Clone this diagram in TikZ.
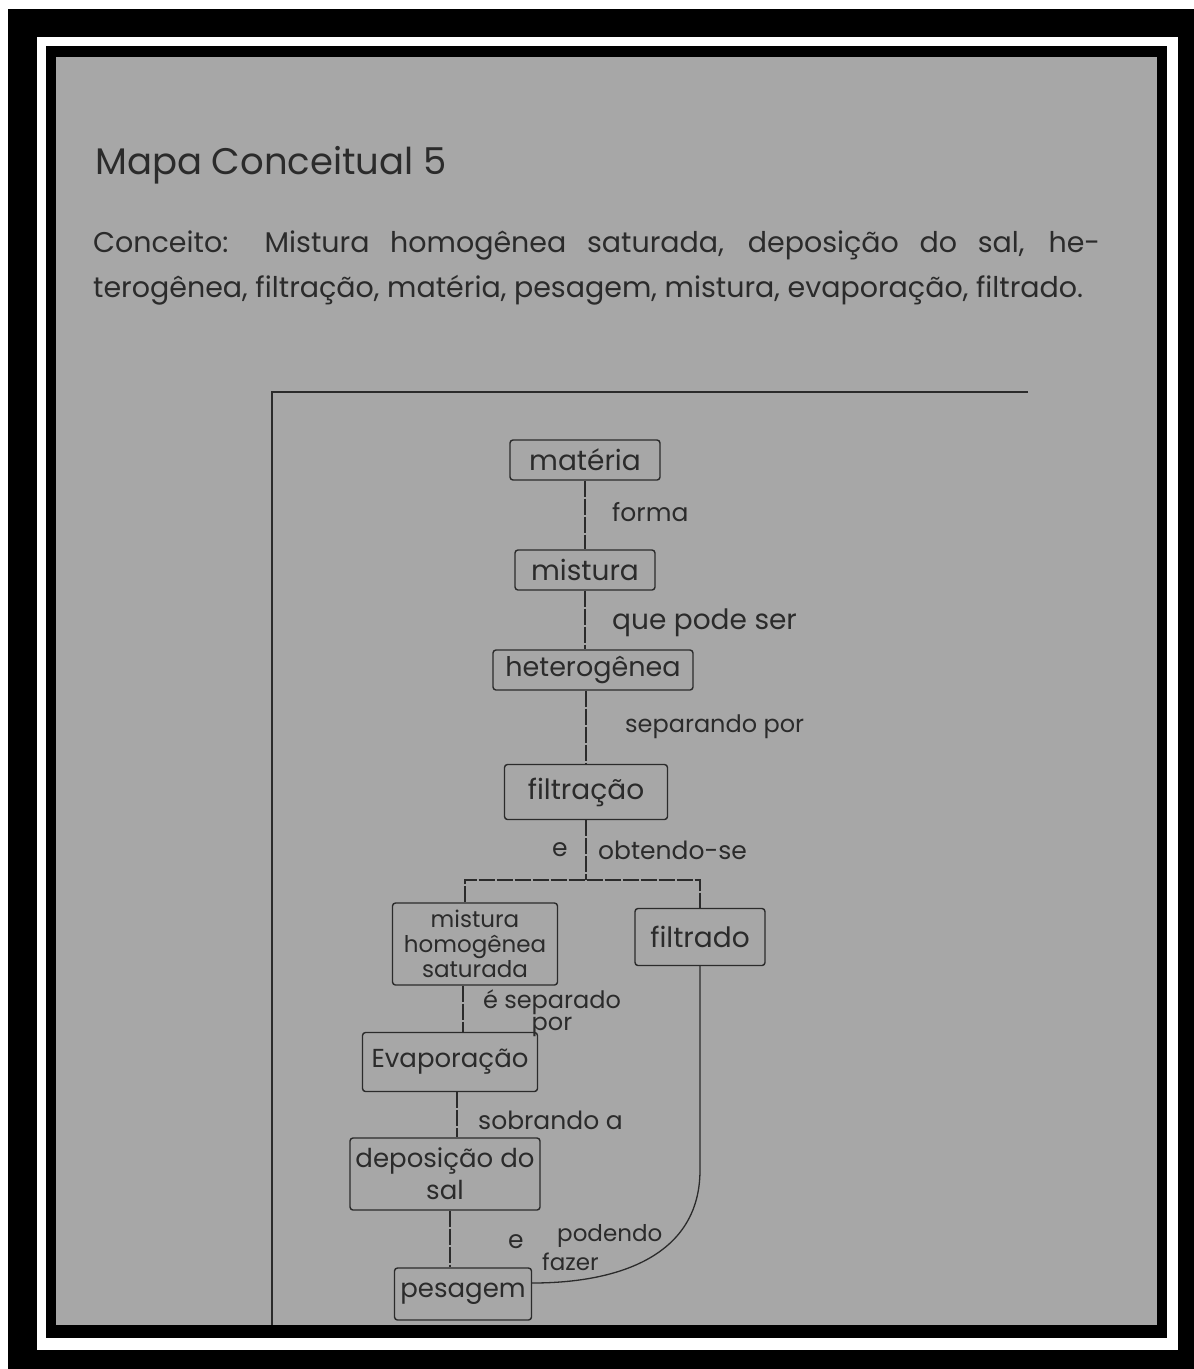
\documentclass[tikz,border=0pt]{standalone}
\usepackage{fontspec}
\setmainfont{Poppins}
\usetikzlibrary{positioning}

\definecolor{paper}{HTML}{A7A7A7}
\definecolor{pencil}{HTML}{2B2B2B}

\begin{document}
\begin{tikzpicture}[x=1pt,y=-1pt,
    concept/.style={draw=pencil,line width=1.4pt,rounded corners=3pt,text=pencil,
        inner sep=3pt,align=center,font=\fontsize{28}{32}\selectfont},
    phrase/.style={text=pencil,inner sep=0pt,anchor=west,font=\fontsize{25}{28}\selectfont},
    link/.style={draw=pencil,line width=1.3pt,dash pattern=on 16pt off 2pt},
]
    % moldura da folha
    \fill [white] (0,0) rectangle (1194,1369);
    \fill [black] (8,9) rectangle (1194,1369);
    \fill [white] (37,37) rectangle (1178,1350);
    \fill [black] (46,46) rectangle (1167,1338);
    \fill [paper] (56,57) rectangle (1157,1325);

    % cabecalho
    \node [phrase,font=\fontsize{37}{42}\selectfont] (titulo) at (95,165) {Mapa Conceitual 5};
    \node [phrase,font=\fontsize{28.5}{32}\selectfont] (lista1) at (93,245)
        {\makebox[1007pt][s]{Conceito: Mistura homogênea saturada, deposição do sal, he-}};
    \node [phrase,font=\fontsize{28.5}{32}\selectfont] (lista2) at (93,290)
        {terogênea, filtração, matéria, pesagem, mistura, evaporação, filtrado.};

    % margem do mapa
    \draw [pencil,line width=1.2pt] (1028,392) -- (272,392) -- (272,1325);

    % conceitos
    \node [concept,minimum width=150,minimum height=40] (materia) at (585,460) {matéria};
    \node [concept,minimum width=140,minimum height=40] (mistura) at (585,570) {mistura};
    \node [concept,minimum width=200,minimum height=40,font=\fontsize{27}{32}\selectfont]
        (hetero) at (593,670) {heterogênea};
    \node [concept,minimum width=163,minimum height=55] (filtracao) at (586,792) {filtração};
    \node [concept,minimum width=165,minimum height=82,font=\fontsize{23}{25}\selectfont]
        (saturada) at (475,944) {mistura\\homogênea\\saturada};
    \node [concept,minimum width=130,minimum height=57] (filtrado) at (700,937) {filtrado};
    \node [concept,minimum width=175,minimum height=59,font=\fontsize{26}{32}\selectfont]
        (evaporacao) at (450,1062) {Evaporação};
    \node [concept,minimum width=190,minimum height=72,font=\fontsize{26}{32}\selectfont]
        (deposicao) at (445,1174) {deposição do\\sal};
    \node [concept,minimum width=137,minimum height=52,font=\fontsize{26}{32}\selectfont]
        (pesagem) at (463,1294) {pesagem};

    % ligacoes
    \coordinate (ramo) at (586,880);
    \coordinate (curva) at (700,1170);
    \draw [link] (materia) -- (mistura);
    \draw [link] (mistura.south) -- (mistura.south |- hetero.north);
    \draw [link] (hetero.south -| filtracao) -- (filtracao.north);
    \draw [link] (filtracao) -- (ramo);
    \draw [link] ([xshift=-10pt]saturada.north) |- (ramo) -| (filtrado.north);
    \draw [link] ([xshift=-12pt]saturada.south) -- ([xshift=13pt]evaporacao.north);
    \draw [link] ([xshift=7pt]evaporacao.south) -- ([xshift=12pt]deposicao.north);
    \draw [link] ([xshift=5pt]deposicao.south) -- ([xshift=5pt]deposicao.south |- pesagem.north);
    \draw [pencil,line width=1.3pt] (filtrado.south) -- (curva)
        .. controls (700,1255) and (620,1283) .. ([yshift=11pt]pesagem.east);

    % frases de ligacao
    \node [phrase] (l1) at (612,512) {forma};
    \node [phrase,font=\fontsize{28}{30}\selectfont] (l2) at (612,623) {que pode ser};
    \node [phrase,font=\fontsize{24}{28}\selectfont] (l3) at (625,727) {separando por};
    \node [phrase] (l4a) at (552,850) {e};
    \node [phrase] (l4b) at (598,850) {obtendo-se};
    \node [phrase,anchor=center,align=center,font=\fontsize{24}{22}\selectfont] (l5) at (552,1013) {é separado\\por};
    \node [phrase] (l6) at (478,1120) {sobrando a};
    \node [phrase] (l7a) at (508,1242) {e};
    \node [phrase,font=\fontsize{23}{26}\selectfont] (l7b) at (557,1236) {podendo};
    \node [phrase,font=\fontsize{23}{26}\selectfont] (l7c) at (542,1262) {fazer};
\end{tikzpicture}
\end{document}
